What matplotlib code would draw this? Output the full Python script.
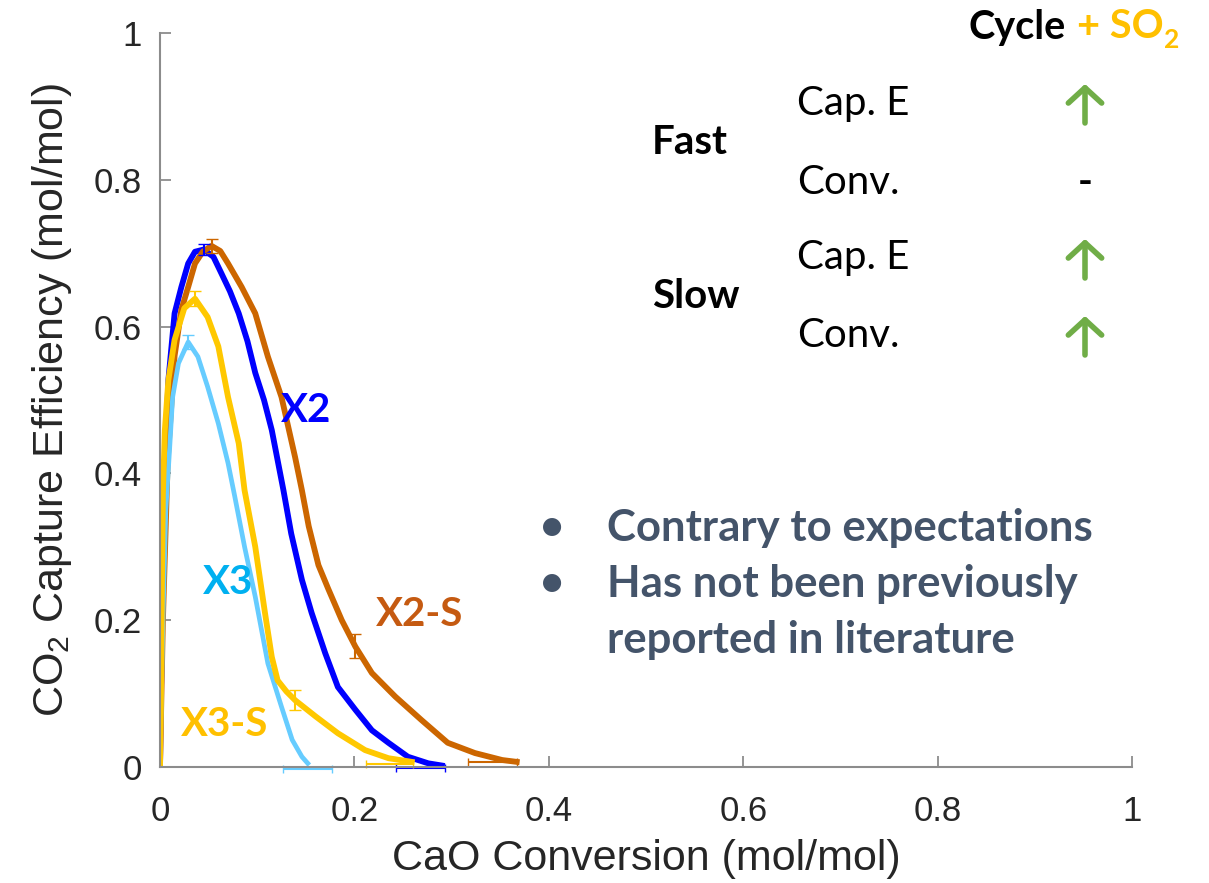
import matplotlib
matplotlib.use("Agg")
import matplotlib.pyplot as plt

plt.rcParams['font.family'] = ['Liberation Sans', 'DejaVu Sans']
plt.rcParams['mathtext.fontset'] = 'custom'
plt.rcParams['mathtext.rm'] = 'Liberation Sans'

# ---- data ----
x2_x = [0, 0.002, 0.005, 0.0086, 0.015, 0.022, 0.029, 0.036, 0.045, 0.055, 0.063, 0.072, 0.081, 0.090,
        0.098, 0.107, 0.115, 0.127, 0.135, 0.146, 0.156, 0.170, 0.183, 0.201, 0.218, 0.235, 0.255,
        0.276, 0.29]
x2_y = [0, 0.2, 0.4, 0.527, 0.618, 0.654, 0.686, 0.702, 0.705, 0.695, 0.673, 0.648, 0.618, 0.58,
        0.537, 0.50, 0.459, 0.377, 0.318, 0.255, 0.21, 0.155, 0.109, 0.078, 0.05, 0.033, 0.014,
        0.005, 0.002]

x2s_x = [0, 0.003, 0.008, 0.015, 0.022, 0.029, 0.036, 0.044, 0.053, 0.062, 0.070, 0.084, 0.098,
         0.111, 0.125, 0.139, 0.146, 0.153, 0.163, 0.173, 0.187, 0.201, 0.218, 0.242, 0.269,
         0.296, 0.324, 0.352, 0.367]
x2s_y = [0, 0.2, 0.42, 0.56, 0.623, 0.654, 0.686, 0.702, 0.71, 0.703, 0.686, 0.654, 0.618,
         0.559, 0.504, 0.422, 0.377, 0.328, 0.275, 0.243, 0.2, 0.164, 0.128, 0.096, 0.064,
         0.033, 0.019, 0.0095, 0.007]

x3_x = [0, 0.003, 0.006, 0.010, 0.013, 0.019, 0.029, 0.039, 0.049, 0.060, 0.070, 0.077, 0.087,
        0.098, 0.111, 0.125, 0.136, 0.146, 0.152]
x3_y = [0, 0.2, 0.35, 0.436, 0.504, 0.55, 0.579, 0.559, 0.518, 0.468, 0.414, 0.368, 0.30,
        0.232, 0.141, 0.082, 0.037, 0.014, 0.005]

x3s_x = [0, 0.001, 0.002, 0.003, 0.005, 0.0086, 0.015, 0.025, 0.036, 0.049, 0.060, 0.070, 0.081,
         0.087, 0.098, 0.108, 0.115, 0.121, 0.130, 0.139, 0.160, 0.183, 0.211, 0.235, 0.259]
x3s_y = [0, 0.1, 0.25, 0.373, 0.459, 0.527, 0.582, 0.625, 0.638, 0.613, 0.573, 0.504, 0.441,
         0.377, 0.30, 0.21, 0.15, 0.118, 0.103, 0.091, 0.069, 0.046, 0.023, 0.012, 0.007]

# error bars (x, y, yerr) and end-point x error bars (x, y, xerr)
x2_eb = ([0.045], [0.705], [0.008])
x2s_eb = ([0.053, 0.201], [0.71, 0.165], [0.01, 0.016])
x3_eb = ([0.029], [0.579], [0.01])
x3s_eb = ([0.036, 0.139], [0.638, 0.091], [0.01, 0.014])
x_end = {'x2': (0.268, -0.002, 0.025), 'x2s': (0.342, 0.007, 0.025),
         'x3': (0.152, -0.003, 0.025), 'x3s': (0.236, 0.004, 0.024)}

c_x2 = '#0000FF'
c_x2s = '#CC6600'
c_x3 = '#66CCFF'
c_x3s = '#FFC800'

W, H = 1209, 883
fig = plt.figure(figsize=(12.09, 8.83), dpi=100)
ax = fig.add_axes([160 / W, 116 / H, 972 / W, 734 / H])

ax.plot(x2_x, x2_y, color=c_x2, lw=4.2)
ax.plot(x2s_x, x2s_y, color=c_x2s, lw=4.2)
ax.plot(x3_x, x3_y, color=c_x3, lw=3.4)
ax.plot(x3s_x, x3s_y, color=c_x3s, lw=4.2)

for eb, c in [(x2_eb, c_x2), (x2s_eb, c_x2s), (x3_eb, c_x3), (x3s_eb, c_x3s)]:
    ax.errorbar(eb[0], eb[1], yerr=eb[2], fmt='none', ecolor=c, elinewidth=1.5, capsize=4)
for k, c in [('x2', c_x2), ('x2s', c_x2s), ('x3', c_x3), ('x3s', c_x3s)]:
    xe = x_end[k]
    ax.errorbar([xe[0]], [xe[1]], xerr=[xe[2]], fmt='none', ecolor=c, elinewidth=1.5,
                capsize=3, clip_on=False)

ax.set_xlim(0, 1)
ax.set_ylim(0, 1)
ax.set_xticks([0, 0.2, 0.4, 0.6, 0.8, 1])
ax.set_xticklabels(['0', '0.2', '0.4', '0.6', '0.8', '1'])
ax.set_yticks([0, 0.2, 0.4, 0.6, 0.8, 1])
ax.set_yticklabels(['0', '0.2', '0.4', '0.6', '0.8', '1'])
for s in ['top', 'right']:
    ax.spines[s].set_visible(False)
for s in ['left', 'bottom']:
    ax.spines[s].set_color('#8c8c8c')
    ax.spines[s].set_linewidth(1.5)
ax.tick_params(direction='in', length=8, width=1.3, color='#8c8c8c', labelsize=25,
               labelcolor='#262626')
ax.tick_params(axis='x', pad=20)
ax.tick_params(axis='y', pad=13)
ax.set_xlabel('CaO Conversion (mol/mol)', fontsize=31, color='#262626', labelpad=8)
ax.set_ylabel(r'CO$_\mathregular{2}$ Capture Efficiency (mol/mol)', fontsize=31,
              color='#262626', labelpad=14)


def px(x, y):
    return x / W, 1 - y / H


bold = dict(family=['Lato', 'DejaVu Sans'], weight='bold')
reg = dict(family=['Lato', 'DejaVu Sans'])

# curve labels
fig.text(*px(306, 410), 'X2', color='#0000FF', fontsize=29, ha='center', va='center', **bold)
fig.text(*px(228, 582), 'X3', color='#00B0F0', fontsize=29, ha='center', va='center', **bold)
fig.text(*px(420, 615), 'X2-S', color='#C55A11', fontsize=29, ha='center', va='center', **bold)
fig.text(*px(225, 725), 'X3-S', color='#FFC000', fontsize=29, ha='center', va='center', **bold)

# bullets
slate = '#44546A'
fig.text(*px(552, 528), '\u2022', color=slate, fontsize=30, ha='center', va='center', **bold)
fig.text(*px(552, 584), '\u2022', color=slate, fontsize=30, ha='center', va='center', **bold)
fig.text(*px(607, 528), 'Contrary to expectations', color=slate, fontsize=31.5, ha='left', va='center', **bold)
fig.text(*px(607, 584), 'Has not been previously', color=slate, fontsize=31.5, ha='left', va='center', **bold)
fig.text(*px(607, 640), 'reported in literature', color=slate, fontsize=31.5, ha='left', va='center', **bold)

# top-right table
fig.text(*px(968, 27), 'Cycle', color='black', fontsize=28.5, ha='left', va='center', **bold)
fig.text(*px(1077, 27), '+ SO', color='#FFC000', fontsize=28.5, ha='left', va='center', **bold)
fig.text(*px(1164, 40), '2', color='#FFC000', fontsize=19, ha='left', va='center', **bold)

fig.text(*px(652, 143), 'Fast', color='black', fontsize=29, ha='left', va='center', **bold)
fig.text(*px(652, 297), 'Slow', color='black', fontsize=29, ha='left', va='center', **bold)
for yy, lab in [(104, 'Cap. E'), (182, 'Conv.'), (258, 'Cap. E'), (336, 'Conv.')]:
    fig.text(*px(797, yy), lab, color='black', fontsize=29, ha='left', va='center', **reg)

fig.text(*px(1085, 183), '-', color='black', fontsize=29, ha='center', va='center', **bold)
for y0, y1 in [(123, 84), (278, 239), (355, 316)]:
    fig.patches.append(matplotlib.patches.FancyArrowPatch(
        px(1085, y0), px(1085, y1), transform=fig.transFigure,
        arrowstyle='->,head_length=0.55,head_width=0.6',
        color='#70AD47', lw=4, mutation_scale=20, shrinkA=0, shrinkB=0))

fig.savefig('out.png', dpi=100)
